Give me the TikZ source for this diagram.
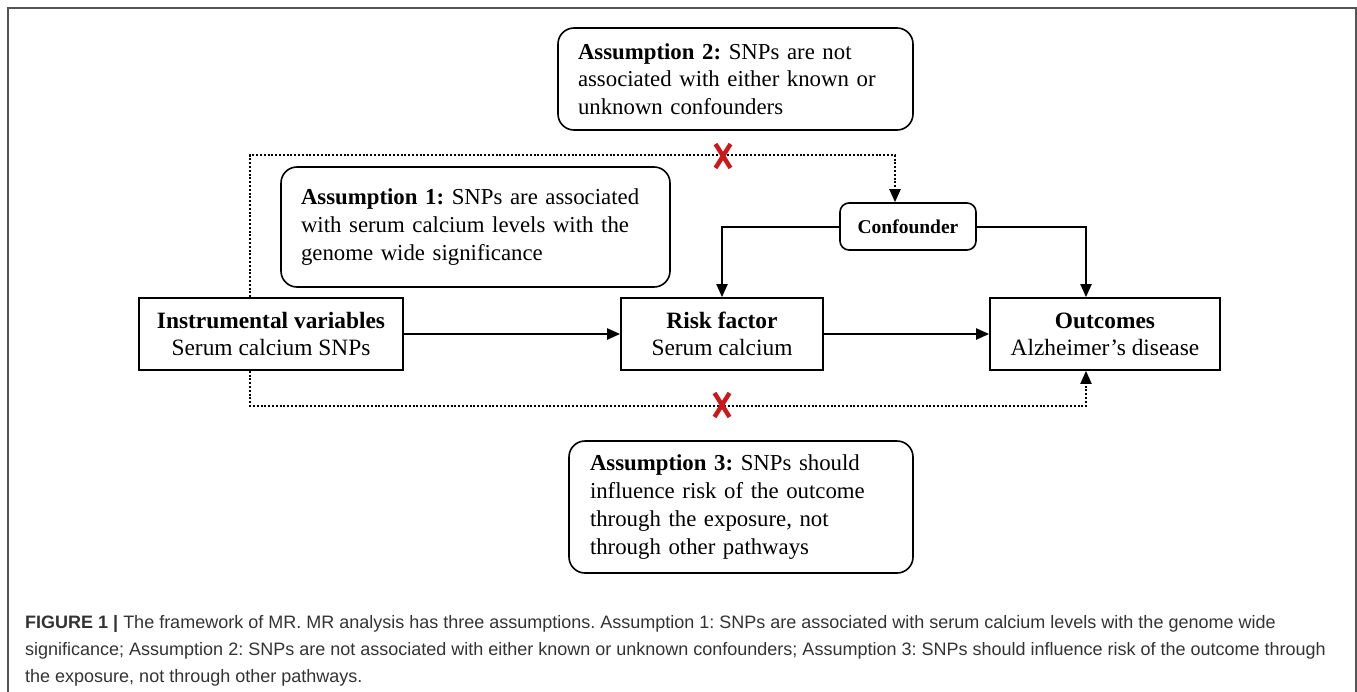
\documentclass[tikz,border=0pt]{standalone}
\usepackage{fontspec}
\setmainfont{Liberation Serif}
\setsansfont{Liberation Sans}
\usetikzlibrary{arrows.meta}
\definecolor{xred}{HTML}{CC1818}
\definecolor{framegray}{HTML}{555555}
\definecolor{captxt}{HTML}{333333}
\frenchspacing
\tikzset{
  box/.style={draw, line width=1.7pt, inner sep=0pt, align=center,
    font=\fontsize{23.4}{27}\selectfont},
  rbox/.style={draw, rounded corners=16pt, line width=1.6pt, inner xsep=20pt, inner ysep=0pt,
    align=left, font=\fontsize{22.8}{27.7}\selectfont},
  confbox/.style={draw, rounded corners=9pt, line width=1.6pt, inner sep=0pt,
    font=\bfseries\fontsize{19.5}{22}\selectfont},
  conn/.style={line width=2pt, -{Triangle[length=13pt,width=11pt]}},
  dotconn/.style={line width=2pt, dash pattern=on 2pt off 1.8pt, -{Triangle[length=13pt,width=11pt]}},
  cross/.style={xred, line width=4.4pt},
  caption/.style={anchor=base west, inner sep=0pt, text=captxt, font=\sffamily\fontsize{18}{22}\selectfont},
}
\begin{document}
\begin{tikzpicture}[x=1pt,y=-1pt]
\useasboundingbox (0,0) rectangle (1357,691);
% outer frame
\draw[framegray, line width=2pt] (8,692) -- (8,8) -- (1356,8) -- (1356,692);

% main boxes
\node[box, minimum width=264pt, minimum height=72pt] (iv) at (271,334)
  {\textbf{Instrumental variables}\\Serum calcium SNPs};
\node[box, minimum width=202pt, minimum height=72pt] (rf) at (722,334)
  {\textbf{Risk factor}\\Serum calcium};
\node[box, minimum width=230pt, minimum height=72pt] (out) at (1105,334)
  {\textbf{Outcomes}\\Alzheimer’s disease};
\node[confbox, minimum width=136pt, minimum height=47pt] (conf) at (908,226.5) {Confounder};

% assumption boxes
\node[rbox, text width=315pt, minimum width=355pt, minimum height=102pt] (a2) at (735.5,79)
  {\textbf{Assumption 2:} SNPs are not\\associated with either known or\\unknown confounders};
\node[rbox, text width=349pt, minimum width=389pt, minimum height=120pt] (a1) at (475.5,227)
  {\textbf{Assumption 1:} SNPs are associated\\with serum calcium levels with the\\genome wide significance};
\node[rbox, inner xsep=21pt, text width=302pt, minimum width=344pt, minimum height=132pt] (a3) at (741,507)
  {\textbf{Assumption 3:} SNPs should\\influence risk of the outcome\\through the exposure, not\\through other pathways};

% connectors
\draw[conn] (iv.east) -- (rf.west);
\draw[conn] (rf.east) -- (out.west);
\draw[conn] (conf.west) -| (rf.north);
\draw[conn] (conf.east) -| ([xshift=-19pt]out.north);
\draw[dotconn] ([xshift=-21pt]iv.north) -- ++(0,-142) -| ([xshift=-13pt]conf.north);
\draw[dotconn] ([xshift=-21pt]iv.south) -- ++(0,35) -| ([xshift=-19pt]out.south);

% red crosses
\coordinate (x1) at (723,156);
\coordinate (x2) at (722,405);
\foreach \c in {x1,x2}{
  \draw[cross] (\c) ++(-7.5,-12) -- ++(15,24);
  \draw[cross] (\c) ++(7.5,-12) -- ++(-15,24);
}

% caption
\node[caption] (c1) at (25,628) {\textbf{FIGURE 1 |} The framework of MR. MR analysis has three assumptions. Assumption 1: SNPs are associated with serum calcium levels with the genome wide};
\node[caption] (c2) at (25,655) {significance; Assumption 2: SNPs are not associated with either known or unknown confounders; Assumption 3: SNPs should influence risk of the outcome through};
\node[caption] (c3) at (25,682) {the exposure, not through other pathways.};
\end{tikzpicture}
\end{document}
